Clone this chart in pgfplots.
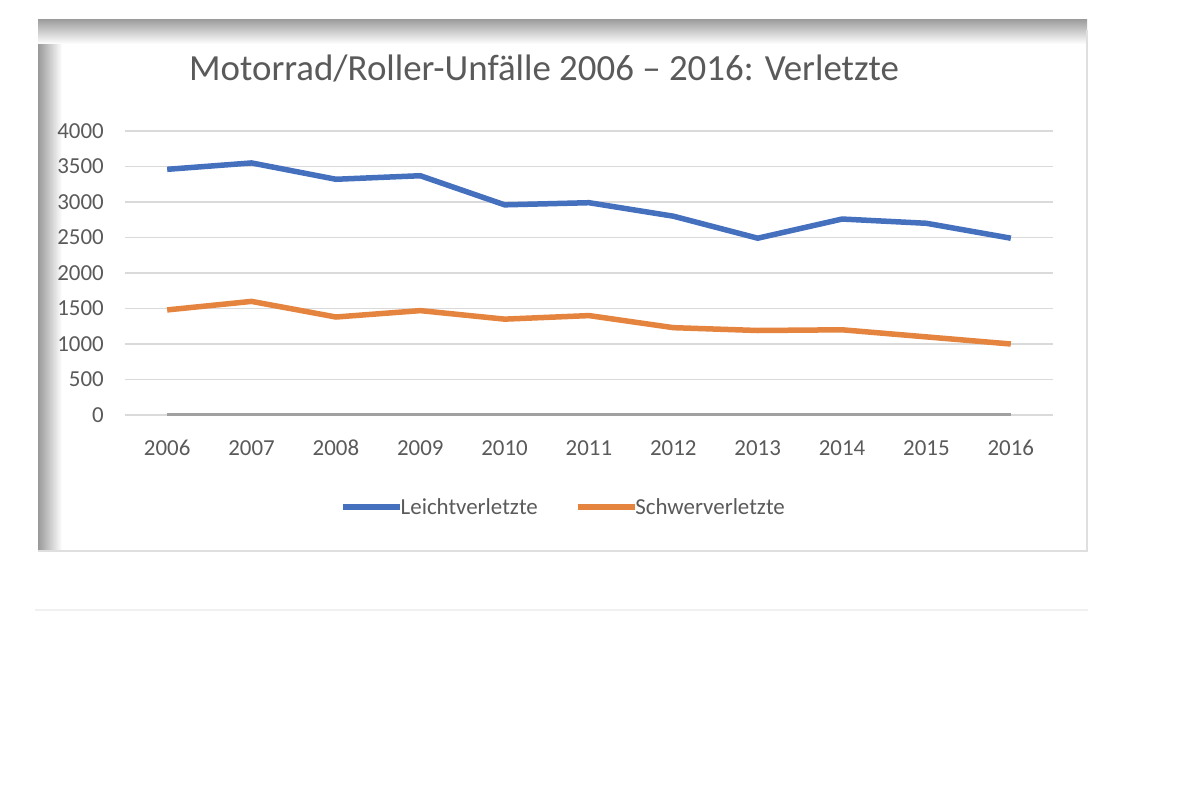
\documentclass[border=0pt]{standalone}
\usepackage{pgfplots}
\pgfplotsset{compat=1.18}
\usepackage{fontspec}
\setmainfont{Carlito}
\definecolor{xlblue}{RGB}{68,112,190}
\definecolor{xlorange}{RGB}{228,132,62}
\definecolor{xltext}{RGB}{90,90,90}
\definecolor{xlgrid}{RGB}{218,218,218}
\definecolor{xlzero}{RGB}{160,160,160}
\begin{document}
\begin{tikzpicture}
% page and frame of the screenshot
\path[fill=white] (0,0) rectangle (1200bp,800bp);
\fill[gray!55] (38bp,249bp) rectangle (1087bp,780bp);
\fill[white] (50bp,250bp) rectangle (1086bp,770bp);
\shade[left color=gray!80, right color=white] (38bp,249bp) rectangle (62bp,780bp);
\shade[top color=gray!75, bottom color=white] (38bp,756bp) rectangle (1087bp,780bp);
\draw[gray!25, line width=1.5bp] (38bp,249bp) -- (1087bp,249bp) -- (1087bp,770bp);
\draw[gray!12, line width=1.5bp] (35bp,190bp) -- (1088bp,190bp);
\node[font=\fontsize{37}{40}\selectfont, text=xltext] at (544bp,732bp)
  {Motorrad/Roller-Unfälle 2006 – 2016: Verletzte};
\begin{axis}[
  at={(125bp,385bp)}, anchor=south west,
  scale only axis, width=928bp, height=284bp,
  xmin=2005.5, xmax=2016.5, ymin=0, ymax=4000,
  xtick={2006,...,2016}, ytick={0,500,...,4000},
  /pgf/number format/assume math mode=true,
  /pgf/number format/1000 sep={},
  axis line style={draw=none},
  major tick length=0pt,
  ymajorgrids, major grid style={xlgrid, line width=1.5bp},
  tick label style={font=\fontsize{23}{25}\selectfont, text=xltext, inner sep=0pt},
  yticklabel style={xshift=-21bp},
  xticklabel style={yshift=-25bp},
  legend style={draw=none, fill=none, at={(0.472,-0.324)}, anchor=center,
    font=\fontsize{23}{25}\selectfont, text=xltext,
    /tikz/every even column/.append style={column sep=36bp},
    nodes={inner sep=1bp}},
  legend columns=2,
  legend image code/.code={\draw[#1] (0bp,0bp) -- (57bp,0bp);},
  clip=false,
]
\addplot[xlzero, line width=3bp, forget plot] coordinates {(2006,0) (2016,0)};
\addplot[xlblue, line width=5.5bp, line join=round] coordinates {
  (2006,3460) (2007,3550) (2008,3320) (2009,3370) (2010,2960) (2011,2990)
  (2012,2800) (2013,2490) (2014,2760) (2015,2700) (2016,2490)};
\addlegendentry{\hspace{-3bp}Leichtverletzte}
\addplot[xlorange, line width=5.5bp, line join=round] coordinates {
  (2006,1480) (2007,1600) (2008,1380) (2009,1470) (2010,1350) (2011,1400)
  (2012,1230) (2013,1190) (2014,1200) (2015,1100) (2016,1000)};
\addlegendentry{\hspace{-3bp}Schwerverletzte}
\end{axis}
\end{tikzpicture}
\end{document}
